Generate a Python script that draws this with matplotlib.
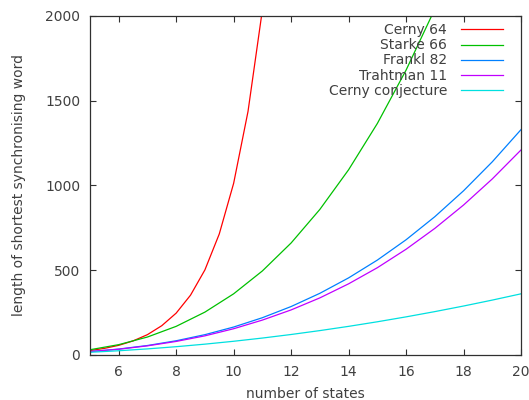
import matplotlib

matplotlib.use("Agg")
import matplotlib.pyplot as plt

# ── Data ─────────────────────────────────────────────────────────────────────

states = [5, 6, 7, 8, 9, 10, 11, 12, 13, 14, 15, 16, 17, 18, 19, 20]
states_fine = [5, 5.5, 6, 6.5, 7, 7.5, 8, 8.5, 9, 9.5, 10, 10.5, 11, 11.5]

cerny64 = [26, 39, 57, 83, 120, 173, 247, 353, 502, 714, 1013, 1437, 2036, 2884]
starke66 = [31, 61, 106, 169, 253, 361, 496, 661, 859, 1093, 1366, 1681, 2041,
            2449, 2908, 3421]
frankl82 = [20, 35, 56, 84, 120, 165, 220, 286, 364, 455, 560, 680, 816, 969,
            1140, 1330]
trahtman11 = [20, 34, 54, 80, 113, 155, 206, 266, 337, 420, 515, 624, 747, 885,
              1039, 1210]
cerny_conj = [16, 25, 36, 49, 64, 81, 100, 121, 144, 169, 196, 225, 256, 289,
              324, 361]

TEXT = "#404040"
FS = 10

plt.rcParams["font.family"] = "DejaVu Sans"

fig = plt.figure(figsize=(5.29, 4.0), dpi=100)
ax = fig.add_axes([0.170, 0.1125, 0.815, 0.8475])

lw = 0.9
ax.plot(states_fine, cerny64, color="#ff0000", lw=lw, label="Cerny 64")
ax.plot(states, starke66, color="#00c000", lw=lw, label="Starke 66")
ax.plot(states, frankl82, color="#0080ff", lw=lw, label="Frankl 82")
ax.plot(states, trahtman11, color="#c000ff", lw=lw, label="Trahtman 11")
ax.plot(states, cerny_conj, color="#00e0e0", lw=lw, label="Cerny conjecture")

ax.set_xlim(5, 20)
ax.set_ylim(0, 2000)
ax.set_xticks([6, 8, 10, 12, 14, 16, 18, 20])
ax.set_yticks([0, 500, 1000, 1500, 2000])

for side in ax.spines.values():
    side.set_color("#303030")
    side.set_linewidth(0.9)
ax.tick_params(direction="in", length=4, width=0.8, top=True, right=True,
               labelsize=FS, colors="#303030", labelcolor=TEXT, pad=7)

ax.set_xlabel("number of states", fontsize=FS, color=TEXT, labelpad=6)
ax.set_ylabel("length of shortest synchronising word", fontsize=FS,
              color=TEXT, labelpad=14)

leg = ax.legend(loc="upper right", frameon=False, markerfirst=False,
                fontsize=FS, handlelength=3.0, handletextpad=1.0,
                labelspacing=0.08, borderaxespad=0.0,
                bbox_to_anchor=(0.97, 0.995))
for t in leg.get_texts():
    t.set_color(TEXT)

fig.savefig("out.png", dpi=100, facecolor="white")
